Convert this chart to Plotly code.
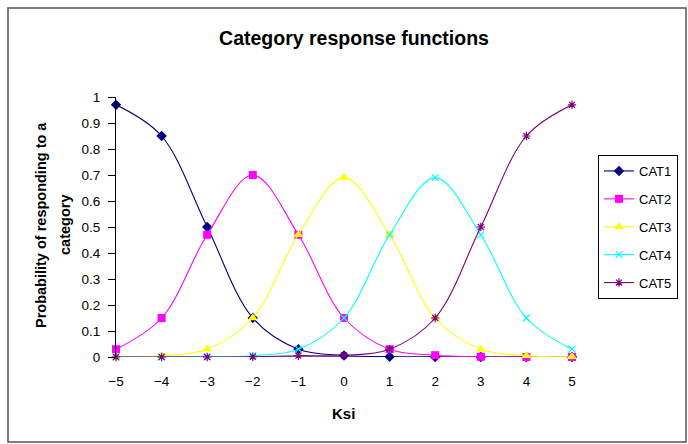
import plotly.graph_objects as go

# Latent trait values (Ksi) and category response probabilities
ksi = [-5, -4, -3, -2, -1, 0, 1, 2, 3, 4, 5]
cat1 = [0.97, 0.85, 0.50, 0.15, 0.03, 0.006, 0.001, 0.0, 0.0, 0.0, 0.0]
cat2 = [0.03, 0.15, 0.47, 0.70, 0.47, 0.15, 0.03, 0.007, 0.001, 0.0, 0.0]
cat3 = [0.0, 0.005, 0.03, 0.15, 0.47, 0.69, 0.47, 0.15, 0.03, 0.005, 0.001]
cat4 = [0.0, 0.0, 0.001, 0.005, 0.03, 0.15, 0.47, 0.69, 0.47, 0.15, 0.03]
cat5 = [0.0, 0.0, 0.0, 0.001, 0.005, 0.006, 0.03, 0.15, 0.50, 0.85, 0.97]
y_ticks = [0, 0.1, 0.2, 0.3, 0.4, 0.5, 0.6, 0.7, 0.8, 0.9, 1]

series = [
    ("CAT1", cat1, "#000080", dict(symbol="diamond", size=8, color="#000080")),
    ("CAT2", cat2, "#FF00FF", dict(symbol="square", size=8, color="#FF00FF")),
    ("CAT3", cat3, "#FFFF00", dict(symbol="triangle-up", size=9, color="#FFFF00")),
    ("CAT4", cat4, "#00FFFF", dict(symbol="x-thin-open", size=7, color="#00FFFF",
                                   line=dict(width=1.2, color="#00FFFF"))),
    ("CAT5", cat5, "#800080", dict(symbol="asterisk-open", size=7, color="#800080",
                                   line=dict(width=1.2, color="#800080"))),
]

FONT = "Liberation Sans, Arial, sans-serif"

fig = go.Figure()
for name, vals, col, mk in series:
    fig.add_trace(go.Scatter(
        x=ksi, y=vals, name=name, mode="lines+markers",
        line=dict(color=col, width=1.1, shape="spline", smoothing=1),
        marker=mk, legendgroup=name, cliponaxis=False,
    ))

W, H = 688, 444
L, R, T, B = 116, 116, 97, 87
pw, ph = W - L - R, H - T - B


def px_x(v):
    return (v - L) / pw


def px_y(v):
    return (H - B - v) / ph


fig.update_layout(
    width=W, height=H,
    margin=dict(l=L, r=R, t=T, b=B, autoexpand=False),
    paper_bgcolor="white", plot_bgcolor="white",
    font=dict(family=FONT, size=13, color="black"),
    title=dict(text="<b>Category response functions</b>",
               font=dict(family=FONT, size=19.5, color="black"),
               x=354 / W, xanchor="center", y=1 - 38 / H, yanchor="middle",
               xref="container", yref="container"),
    xaxis=dict(range=[-5, 5], tickvals=ksi, ticks="", showgrid=False,
               zeroline=False, showline=False, tickfont=dict(size=13.5),
               ticklabelstandoff=14, fixedrange=True),
    yaxis=dict(range=[0, 1], tickvals=y_ticks, ticktext=[f"{v:g}" for v in y_ticks],
               ticks="outside", ticklen=7, tickcolor="black", showgrid=False,
               zeroline=False, showline=True, linecolor="black", linewidth=1,
               tickfont=dict(size=13.5), ticklabelstandoff=5, fixedrange=True),
    legend=dict(x=px_x(598), y=px_y(155), xanchor="left", yanchor="top",
                bordercolor="black", borderwidth=1, bgcolor="white",
                font=dict(family=FONT, size=13, color="black"),
                traceorder="grouped", tracegroupgap=8),
    showlegend=True,
)

# x axis line drawn at y = 0 across the plot width
fig.add_shape(type="line", xref="x", yref="y", x0=-5, x1=5, y0=0, y1=0,
              line=dict(color="black", width=1), layer="below")

# chart area frame
fig.add_shape(type="rect", xref="paper", yref="paper",
              x0=px_x(8), x1=px_x(686), y0=px_y(442), y1=px_y(8),
              line=dict(color="#555555", width=1.5), layer="below")

# axis titles
fig.add_annotation(text="<b>Ksi</b>", xref="paper", yref="paper",
                   x=px_x(343), y=px_y(413), xanchor="center", yanchor="middle",
                   showarrow=False, font=dict(family=FONT, size=15, color="black"))
fig.add_annotation(text="<b>Probability of responding to a</b>", xref="paper", yref="paper",
                   x=px_x(41), y=px_y(225), xanchor="center", yanchor="middle",
                   textangle=-90, showarrow=False,
                   font=dict(family=FONT, size=14.5, color="black"))
fig.add_annotation(text="<b>category</b>", xref="paper", yref="paper",
                   x=px_x(65), y=px_y(225), xanchor="center", yanchor="middle",
                   textangle=-90, showarrow=False,
                   font=dict(family=FONT, size=14.5, color="black"))

fig.write_html("out.html")
